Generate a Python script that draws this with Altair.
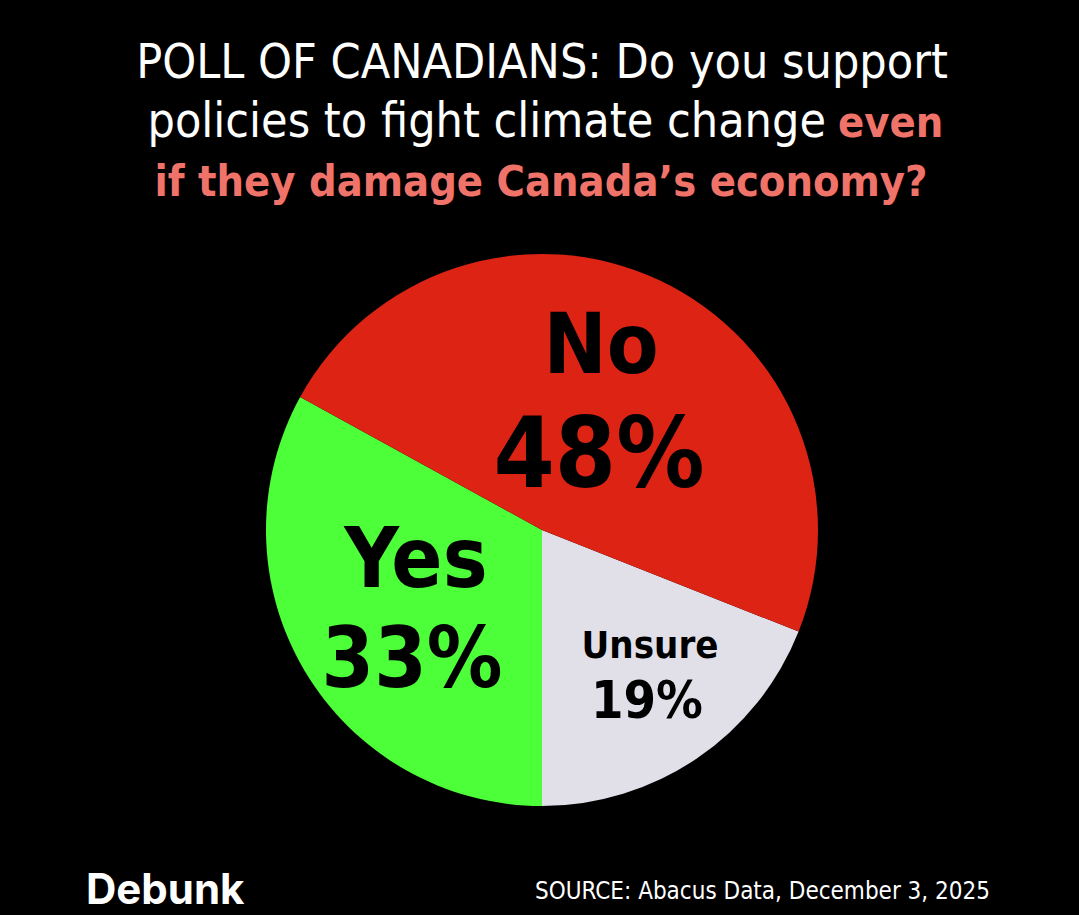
import math
import jinja2
import altair as alt
import pandas as pd

# ---- data ----
categories = ["Unsure", "Yes", "No"]
values = [19, 33, 48]
colors = ["#e1dfe8", "#4cff38", "#dd2314"]
title_line1 = "POLL OF CANADIANS: Do you support"
title_line2a = "policies to fight climate change"
title_line2b = "even"
title_line3 = "if they damage Canada\u2019s economy?"
source_text = "SOURCE: Abacus Data, December 3, 2025"
brand_text = "Debunk"

W, H = 1063, 907
M = 8  # page margin
COND = "DejaVu Sans Condensed"


def px(x):
    return x - M


pie_df = pd.DataFrame({"category": categories, "value": values,
                       "order": list(range(len(categories)))})

start = math.radians(180 - values[0] / sum(values) * 360)

pie = alt.Chart(pie_df).mark_arc(radius=276).encode(
    theta=alt.Theta("value:Q", stack=True,
                    scale=alt.Scale(range=[start, start + 2 * math.pi])),
    order=alt.Order("order:Q"),
    color=alt.Color("category:N", scale=alt.Scale(domain=categories, range=colors),
                    legend=None),
    x=alt.value(px(542)),
    y=alt.value(px(530)),
)


def text_layer(text, x, y, size, color="#000000", weight="bold",
               font=COND, align="center"):
    df = pd.DataFrame({"t": [text]})
    return alt.Chart(df).mark_text(
        font=font, fontSize=size, fontWeight=weight, color=color,
        align=align, baseline="alphabetic"
    ).encode(text="t:N", x=alt.value(px(x)), y=alt.value(px(y)))


salmon = "#f0736a"
layers = [pie]
# slice labels
layers.append(text_layer(categories[2], 601, 373, 84))
layers.append(text_layer(f"{values[2]}%", 599, 487, 98))
layers.append(text_layer(categories[1], 416, 587, 84))
layers.append(text_layer(f"{values[1]}%", 412, 687, 84))
layers.append(text_layer(categories[0], 650, 658, 38))
layers.append(text_layer(f"{values[0]}%", 647, 718, 52))
# title
layers.append(text_layer(title_line1, 542, 78, 48, color="#ffffff", weight="normal"))
layers.append(text_layer(title_line2a, 826, 137, 48, color="#ffffff", weight="normal", align="right"))
layers.append(text_layer(title_line2b, 838, 137, 43, color=salmon, weight="bold", align="left"))
layers.append(text_layer(title_line3, 541, 196, 43, color=salmon, weight="bold"))
# footer
layers.append(text_layer(brand_text, 86, 904, 42, color="#ffffff", weight="bold", font="Inter", align="left"))
layers.append(text_layer(source_text, 990, 899, 24, color="#ffffff", weight="normal", align="right"))

chart = alt.layer(*layers).properties(
    width=W, height=H, background="#000000",
    autosize=alt.AutoSizeParams(type="none"), padding=0
).configure_view(stroke=None)

PAGE = jinja2.Template("""<!DOCTYPE html>
<html>
<head>
  <style>
    html, body { background: #000000; overflow: hidden; }
    body { margin: 8px 8px 0 8px; }
    #{{ output_div }}.vega-embed { width: 100%; display: flex; }
  </style>
  <script type="text/javascript" src="{{ base_url }}/vega@{{ vega_version }}"></script>
  <script type="text/javascript" src="{{ base_url }}/vega-lite@{{ vegalite_version }}"></script>
  <script type="text/javascript" src="{{ base_url }}/vega-embed@{{ vegaembed_version }}"></script>
</head>
<body>
  <div id="{{ output_div }}"></div>
  <script>
    (function(vegaEmbed) {
      var spec = {{ spec }};
      var embedOpt = {{ embed_options }};
      vegaEmbed("#{{ output_div }}", spec, embedOpt).catch(function(e) {
        document.getElementById('{{ output_div }}').innerHTML =
          '<p style="color:red">' + e.message + '</p>';
      });
    })(vegaEmbed);
  </script>
</body>
</html>
""")

chart.save("out.html", embed_options={"renderer": "svg", "actions": False}, template=PAGE)
